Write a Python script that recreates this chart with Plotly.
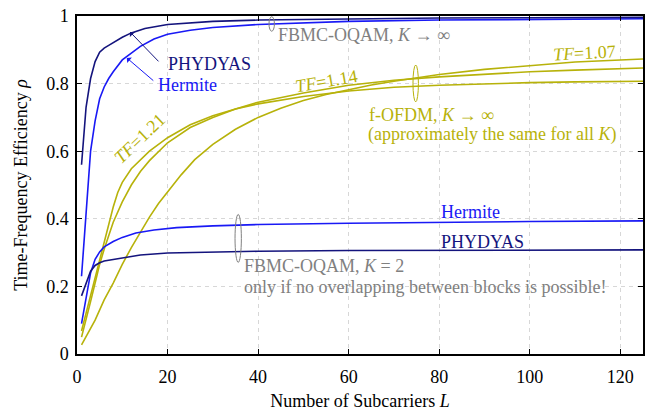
import plotly.graph_objects as go

# ---------------- data ----------------
# FBMC-OQAM, K -> infinity
L_phy_inf = [1, 2, 3, 4, 5, 6, 7, 8, 10, 12, 15, 20, 25, 30, 40, 50, 60, 80, 100, 125]
rho_phy_inf = [0.56, 0.73, 0.815, 0.865, 0.893, 0.905, 0.913, 0.921, 0.937, 0.95, 0.963, 0.975,
               0.98, 0.984, 0.988, 0.99, 0.992, 0.994, 0.995, 0.996]
L_her_inf = [1, 2, 3, 4, 5, 6, 7, 8, 10, 12, 14, 17, 20, 25, 30, 40, 50, 60, 80, 100, 125]
rho_her_inf = [0.23, 0.43, 0.6, 0.69, 0.755, 0.79, 0.815, 0.835, 0.87, 0.89, 0.91, 0.932, 0.946,
               0.958, 0.966, 0.975, 0.98, 0.984, 0.988, 0.99, 0.992]

# FBMC-OQAM, K = 2
L_her_k2 = [1, 2, 3, 4, 5, 6, 8, 10, 13, 17, 22, 30, 40, 60, 80, 100, 125]
rho_her_k2 = [0.09, 0.17, 0.24, 0.28, 0.302, 0.317, 0.333, 0.345, 0.358, 0.367, 0.374, 0.379,
              0.383, 0.387, 0.39, 0.392, 0.394]
L_phy_k2 = [1, 2, 3, 4, 5, 6, 8, 10, 14, 20, 30, 40, 60, 80, 100, 125]
rho_phy_k2 = [0.172, 0.21, 0.245, 0.262, 0.27, 0.275, 0.28, 0.285, 0.293, 0.299, 0.302, 0.304,
              0.306, 0.307, 0.308, 0.308]

# f-OFDM, K -> infinity
L_tf121 = [1, 2, 3, 4, 5, 6, 7, 8, 9, 10, 12, 14, 16, 20, 25, 30, 35, 40, 50, 60, 70, 80, 90, 100, 110, 125]
rho_tf121 = [0.068, 0.12, 0.17, 0.225, 0.28, 0.33, 0.38, 0.435, 0.478, 0.508, 0.548, 0.575, 0.6,
             0.64, 0.678, 0.705, 0.725, 0.74, 0.762, 0.778, 0.789, 0.795, 0.8, 0.803, 0.805, 0.807]
L_tf114 = [1, 2, 3, 4, 5, 6, 8, 10, 12, 14, 16, 20, 25, 30, 35, 40, 50, 60, 70, 80, 90, 100, 110, 125]
rho_tf114 = [0.05, 0.1, 0.155, 0.21, 0.265, 0.31, 0.39, 0.45, 0.5, 0.54, 0.572, 0.625, 0.67, 0.7,
             0.725, 0.745, 0.772, 0.795, 0.81, 0.82, 0.828, 0.835, 0.84, 0.846]
L_tf107 = [1, 2, 4, 6, 8, 10, 12, 14, 16, 18, 20, 23, 26, 30, 35, 40, 45, 50, 55, 60, 65, 70, 75,
           80, 90, 100, 110, 125]
rho_tf107 = [0.027, 0.05, 0.1, 0.16, 0.21, 0.265, 0.315, 0.36, 0.405, 0.445, 0.48, 0.53, 0.575,
             0.62, 0.665, 0.7, 0.727, 0.75, 0.768, 0.783, 0.796, 0.807, 0.818, 0.827, 0.842,
             0.854, 0.864, 0.873]

x_ticks = [0, 20, 40, 60, 80, 100, 120]
y_ticks = [0, 0.2, 0.4, 0.6, 0.8, 1]
y_tick_text = ["0", "0.2", "0.4", "0.6", "0.8", "1"]

# ---------------- style ----------------
NAVY = "rgb(20,20,125)"
BLUE = "rgb(25,25,245)"
OLIVE = "rgb(183,178,10)"
GRAY = "rgb(128,128,128)"
FONT = "Liberation Serif"
FS = 18
LW = 1.6

fig = go.Figure()
series = [
    (L_tf107, rho_tf107, OLIVE, "f-OFDM TF=1.07"),
    (L_tf114, rho_tf114, OLIVE, "f-OFDM TF=1.14"),
    (L_tf121, rho_tf121, OLIVE, "f-OFDM TF=1.21"),
    (L_her_k2, rho_her_k2, BLUE, "Hermite K=2"),
    (L_phy_k2, rho_phy_k2, NAVY, "PHYDYAS K=2"),
    (L_her_inf, rho_her_inf, BLUE, "Hermite K=inf"),
    (L_phy_inf, rho_phy_inf, NAVY, "PHYDYAS K=inf"),
]
for xs, ys, col, name in series:
    fig.add_trace(go.Scatter(x=xs, y=ys, mode="lines", name=name,
                             line=dict(color=col, width=LW),
                             showlegend=False, hoverinfo="skip"))

def txt(x, y, s, col, anchor="left", angle=0, size=FS):
    fig.add_annotation(x=x, y=y, text=s, showarrow=False, xanchor=anchor, yanchor="middle",
                       textangle=angle, font=dict(family=FONT, size=size, color=col))

def arrow(x, y, ax, ay, col):
    fig.add_annotation(x=x, y=y, text="", showarrow=True, axref="pixel", ayref="pixel",
                       ax=ax, ay=ay, arrowhead=1, arrowsize=1.2, arrowwidth=1, arrowcolor=col)

def ellipse(xc, w, y0, y1, col):
    fig.add_shape(type="circle", xref="x", yref="y", x0=xc - w / 2, x1=xc + w / 2, y0=y0, y1=y1,
                  line=dict(color=col, width=1))

# top-left labels with arrows
txt(19.6, 0.857, "PHYDYAS", NAVY)
txt(17.4, 0.797, "Hermite", BLUE)
arrow(11.7, 0.953, 30, 31, NAVY)
arrow(11.0, 0.876, 28, 24, BLUE)

# FBMC-OQAM K->inf
txt(44.0, 0.944, "FBMC-OQAM, <i>K</i> → ∞", GRAY)
ellipse(43.0, 1.2, 0.955, 0.998, GRAY)

# f-OFDM
txt(64.0, 0.708, "f-OFDM, <i>K</i> → ∞", OLIVE)
txt(63.8, 0.650, "(approximately the same for all <i>K</i>)", OLIVE)
ellipse(74.8, 1.2, 0.746, 0.855, OLIVE)
txt(112.0, 0.892, "<i>TF</i>=1.07", OLIVE, anchor="center", angle=-3)
txt(55.2, 0.808, "<i>TF</i>=1.14", OLIVE, anchor="center", angle=-10)
txt(13.9, 0.64, "<i>TF</i>=1.21", OLIVE, anchor="center", angle=-44)

# K = 2
txt(79.9, 0.419, "Hermite", BLUE)
txt(79.9, 0.330, "PHYDYAS", NAVY)
txt(36.5, 0.260, "FBMC-OQAM, <i>K</i> = 2", GRAY)
txt(36.5, 0.198, "only if no overlapping between blocks is possible!", GRAY)
ellipse(35.6, 1.4, 0.271, 0.413, GRAY)

axis_common = dict(showline=True, linecolor="black", linewidth=1.5, mirror="ticks",
                   ticks="inside", ticklen=5, tickwidth=1, tickcolor="black",
                   showgrid=True, gridcolor="rgb(215,215,215)", gridwidth=1, griddash="4px,4px",
                   zeroline=False, tickfont=dict(family=FONT, size=FS, color="black"))

fig.update_xaxes(range=[0, 125], tickvals=x_ticks, ticklabelstandoff=6,
                 title=dict(text="Number of Subcarriers <i>L</i>",
                            font=dict(family=FONT, size=FS, color="black"), standoff=8),
                 **axis_common)
fig.update_yaxes(range=[0, 1], tickvals=y_ticks, ticktext=y_tick_text, ticklabelstandoff=3,
                 title=dict(text="Time-Frequency Efficiency <i>ρ</i>",
                            font=dict(family=FONT, size=FS, color="black"), standoff=14),
                 **axis_common)

fig.update_layout(width=651, height=414, margin=dict(l=77, r=6, t=16, b=59),
                  plot_bgcolor="white", paper_bgcolor="white", showlegend=False)

fig.write_html("out.html")
